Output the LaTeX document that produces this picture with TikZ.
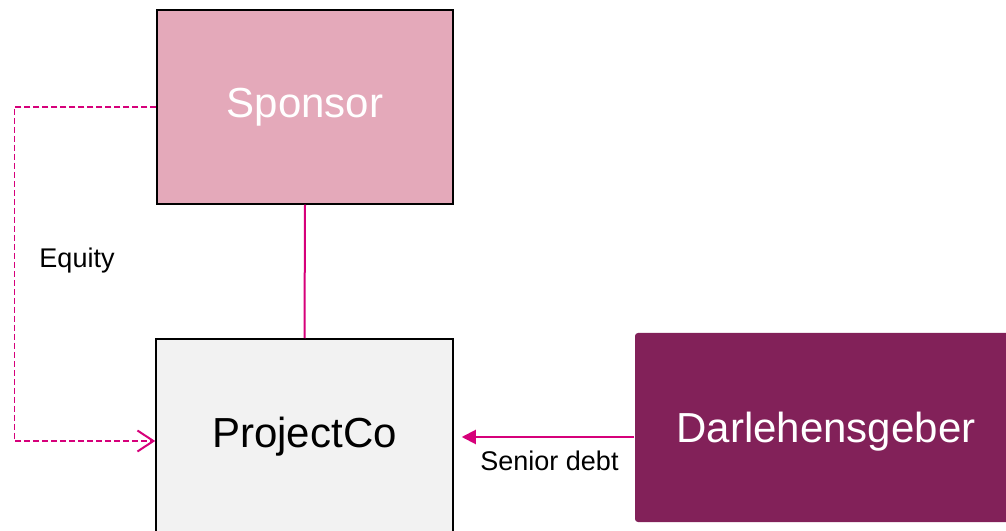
\documentclass[tikz,border=0pt]{standalone}
\usepackage{fontspec}
\setmainfont{Liberation Sans}
\usetikzlibrary{arrows.meta}
\definecolor{linkmag}{RGB}{214,0,122}
\definecolor{sponsorfill}{RGB}{228,169,186}
\definecolor{pcfill}{RGB}{242,242,242}
\definecolor{lenderfill}{RGB}{130,33,89}
\tikzset{
  box/.style={draw=black, line width=1.5pt, inner sep=0pt, font=\fontsize{42}{50}\selectfont},
  lbl/.style={font=\fontsize{27}{32}\selectfont, text=black, inner sep=0pt},
  link/.style={draw=linkmag, line width=2pt}
}
\begin{document}
\begin{tikzpicture}[x=1pt,y=1pt]
\useasboundingbox (0,0) rectangle (1006,530);
\clip (0,0) rectangle (1006,530);
\node[box, fill=sponsorfill, text=white, minimum width=296pt, minimum height=194pt] (sp) at (305,423) {Sponsor};
\node[box, fill=pcfill, text=black, minimum width=297pt, minimum height=200pt, text height=30pt, text depth=12pt] (pc) at (304.5,91) {ProjectCo};
\node[box, draw=none, fill=lenderfill, rounded corners=3pt, text=white, minimum width=382pt, minimum height=189pt, text height=40pt, text depth=9pt] (dg) at (826,102.5) {Darlehensgeber};
\draw[link] (sp.south) -- (pc.north);
\draw[link, line width=1.5pt, dash pattern=on 6pt off 3pt, -{Straight Barb[length=16pt,width=21pt,line width=2pt]}] (sp.west) -- ++(-142,0) |- ([yshift=-2pt]pc.west);
\draw[link, -{Triangle[length=14pt,width=14pt]}, shorten >=8pt] ([yshift=-9.5pt]dg.west) -- ([yshift=-9.5pt]dg.west -| pc.east);
\node[lbl] (eq) at (77,269) {Equity};
\node[lbl] (sd) at (549.5,69) {Senior debt};
\end{tikzpicture}
\end{document}
